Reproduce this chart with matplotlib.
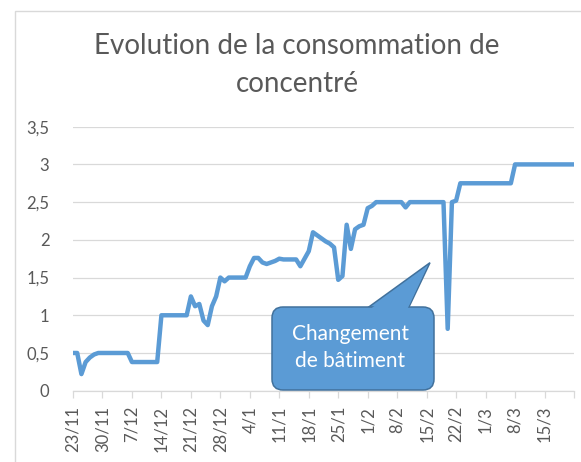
import numpy as np
import pandas as pd
import matplotlib
matplotlib.use("Agg")
import matplotlib.pyplot as plt
from matplotlib.patches import FancyBboxPatch, Polygon, Rectangle
from matplotlib.transforms import IdentityTransform

# data (day offset from 23/11/2017, consumption)
jours = [0, 1, 2, 3, 4, 5, 6, 13, 14, 20, 21, 27, 28, 29, 30, 31, 32, 33, 34,
         35, 36, 37, 41, 42, 43, 44, 45, 46, 47, 48, 49, 50, 53, 54, 55, 56,
         57, 58, 59, 60, 61, 62, 63, 64, 65, 66, 67, 68, 69, 70, 71, 72, 78,
         79, 80, 88, 89, 90, 91, 92, 104, 105, 119]
conso = [0.5, 0.5, 0.22, 0.38, 0.44, 0.48, 0.5, 0.5, 0.38, 0.38, 1.0, 1.0,
         1.25, 1.12, 1.15, 0.93, 0.87, 1.12, 1.25, 1.5, 1.45, 1.5, 1.5, 1.65,
         1.76, 1.76, 1.7, 1.68, 1.7, 1.72, 1.75, 1.74, 1.74, 1.65, 1.75, 1.85,
         2.1, 2.06, 2.02, 1.98, 1.95, 1.9, 1.47, 1.52, 2.2, 1.88, 2.14, 2.18,
         2.2, 2.42, 2.45, 2.5, 2.5, 2.43, 2.5, 2.5, 0.82, 2.5, 2.52, 2.75,
         2.75, 3.0, 3.0]
debut = pd.Timestamp("2017-11-23")
fin = pd.Timestamp("2018-03-22")
y_ticks = [0, 0.5, 1, 1.5, 2, 2.5, 3, 3.5]
y_labels = ["0", "0,5", "1", "1,5", "2", "2,5", "3", "3,5"]
titre = "Evolution de la consommation de\nconcentré"
bulle = "Changement\nde bâtiment"

dates = debut + pd.to_timedelta(jours, unit="D")

bleu = "#5B9BD5"
gris = "#595959"
grille = "#D9D9D9"
plt.rcParams['font.family'] = ['Lato', 'DejaVu Sans']

W, H = 581, 462
fig = plt.figure(figsize=(W / 100, H / 100), dpi=100)
ax = fig.add_axes([73 / W, 1 - 390.7 / H, (574 - 73) / W, (390.7 - 126.7) / H])

# chart frame
fig.add_artist(Rectangle((15, -10), 600, H - 11 + 10, transform=IdentityTransform(),
                         fill=False, edgecolor="#D9D9D9", lw=1.0))

ax.plot(dates, conso, color=bleu, lw=3.2, solid_joinstyle="round",
        solid_capstyle="round", zorder=3)

ax.set_xlim(debut, fin)
ax.set_ylim(0, 3.5)
ax.set_yticks(y_ticks)
ax.set_yticklabels(y_labels)
ticks = pd.date_range(debut, fin, freq="7D")
ax.set_xticks(ticks)
ax.set_xticklabels([f"{d.day}/{d.month}" for d in ticks[:-1]] + [""], rotation=90)

ax.grid(axis="y", color=grille, lw=0.9)
ax.set_axisbelow(True)
for s in ["top", "right", "left"]:
    ax.spines[s].set_visible(False)
ax.spines["bottom"].set_color(grille)
ax.spines["bottom"].set_linewidth(0.9)
ax.tick_params(axis="y", length=0, pad=17, labelsize=12, labelcolor=gris)
ax.tick_params(axis="x", length=5, width=0.9, color=grille, pad=6,
               labelsize=12, labelcolor=gris)

fig.text(297 / W, 1 - 65 / H, titre, ha="center", va="center", fontsize=20,
         color=gris, linespacing=1.6)


# callout (pixel coords measured from top)
def px(x, y):
    return (x, H - y)


tail = [px(366, 309), px(430, 262.7), px(408, 309)]
box = FancyBboxPatch(px(272, 390), 434 - 272, 390 - 307,
                     boxstyle="round,pad=0,rounding_size=11",
                     transform=IdentityTransform(), facecolor=bleu,
                     edgecolor="#41719C", lw=1.1, zorder=5)
fig.add_artist(Polygon(tail, closed=True, transform=IdentityTransform(),
                       facecolor=bleu, edgecolor="#41719C", lw=1.1, zorder=4))
fig.add_artist(box)
fig.add_artist(Polygon([px(367.8, 311), px(427.5, 266), px(406.5, 311)], closed=True,
                       transform=IdentityTransform(), facecolor=bleu,
                       edgecolor="none", zorder=6))
fig.text(350 / W, 1 - 347.5 / H, bulle, ha="center", va="center", fontsize=15,
         color="white", linespacing=1.45, zorder=7)

fig.savefig("out.png", dpi=100)
